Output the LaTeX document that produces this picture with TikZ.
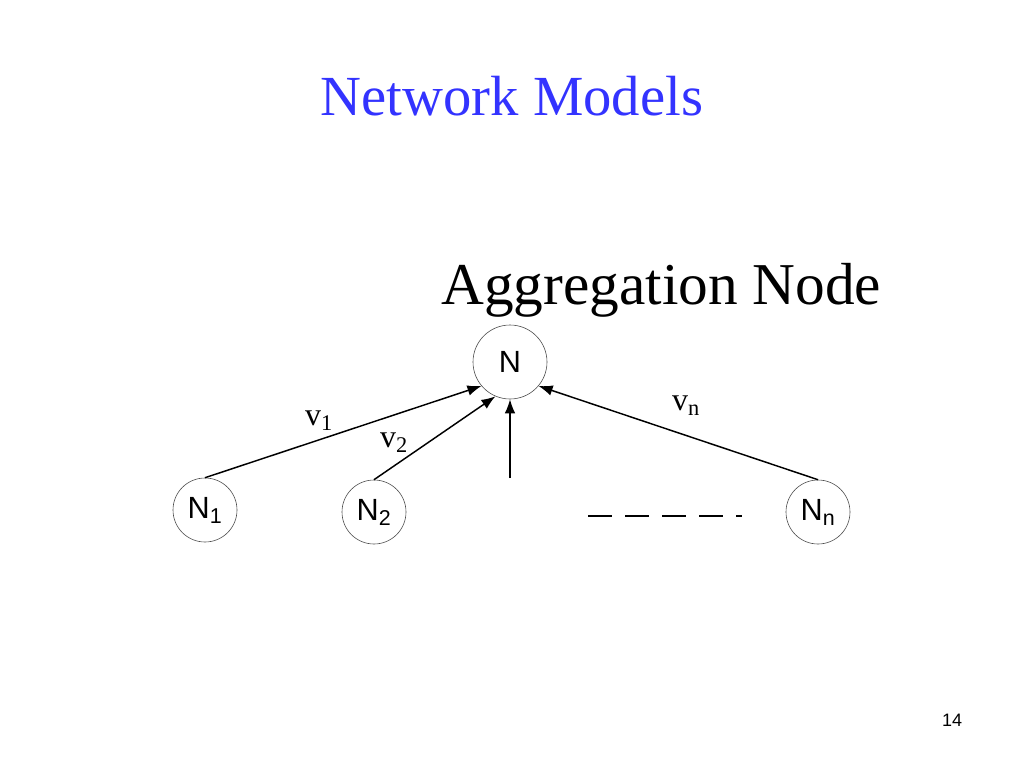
\documentclass[tikz,border=0pt]{standalone}
\usepackage{fontspec}
\setmainfont{Liberation Serif}
\newfontfamily\arialfont{Liberation Sans}
\usetikzlibrary{arrows.meta}
\definecolor{titleblue}{RGB}{51,51,255}
\tikzset{
  netnode/.style={circle, draw=black!70, line width=0.45pt, inner sep=0pt, font=\arialfont\fontsize{23}{26}\selectfont},
  bignode/.style={netnode, minimum size=55.5pt},
  smallnode/.style={netnode, minimum size=48pt},
  link/.style={line width=1.1pt, -{Latex[length=10.5pt,width=8pt]}},
  vlabel/.style={font=\fontsize{24}{26}\selectfont, inner sep=0pt}
}
\begin{document}
\begin{tikzpicture}[x=0.75pt,y=-0.75pt]
\useasboundingbox (0,0) rectangle (1024,768);
\node[anchor=base, text=titleblue, font=\fontsize{42.5}{48}\selectfont, inner sep=0pt] (title) at (512,115) {Network Models};
\node[anchor=base west, font=\fontsize{44.5}{50}\selectfont, inner sep=0pt] (agg) at (441,304) {Aggregation Node};
\node[bignode] (n) at (510,362) {N};
\node[smallnode] (n1) at (205,510) {N\textsubscript{1}};
\node[smallnode] (n2) at (374,512) {N\textsubscript{2}};
\node[smallnode] (nn) at (818,512) {N\textsubscript{n}};
\coordinate (vstart) at (510,478);
\draw[link] (n1.north) -- (n.220);
\draw[link] (n2.north) -- (n.247);
\draw[link] (vstart) -- (n.south);
\draw[link] (nn.north) -- (n.320);
\node[vlabel] (v1) at (319,421) {v\textsubscript{1}};
\node[vlabel] (v2) at (394,443) {v\textsubscript{2}};
\node[vlabel] (vn) at (686,406) {v\textsubscript{n}};
\coordinate (dstart) at (588,516);
\coordinate (dend) at (742,516);
\draw[line width=0.8pt, dash pattern=on 18pt off 9.75pt] (dstart) -- (dend);
\node[anchor=base, font=\arialfont\fontsize{13.5}{16}\selectfont, inner sep=0pt] (page) at (952,726) {14};
\end{tikzpicture}
\end{document}
